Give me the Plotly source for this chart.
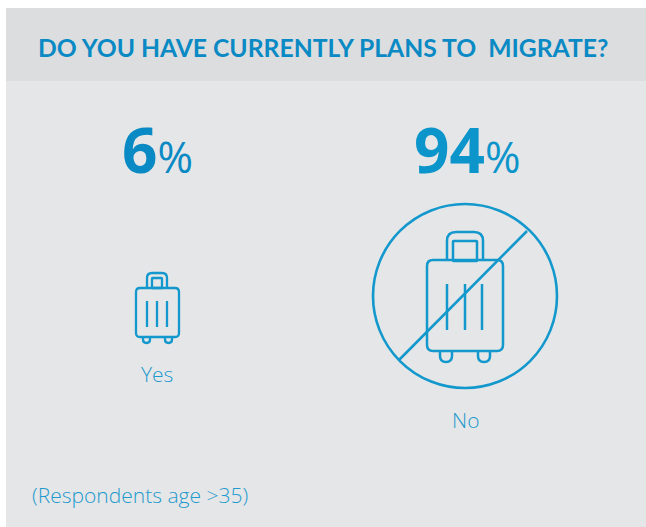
import plotly.graph_objects as go

W, H = 646, 527

# Survey content
TITLE = "DO YOU HAVE CURRENTLY PLANS TO  MIGRATE?"
CATEGORIES = ["Yes", "No"]
SHARES = [6, 94]
NOTE = "(Respondents age >35)"

BLUE_DARK = "#0A8AC4"
BLUE = "#0C95CB"
BLUE_LINE = "#1298CC"
BLUE_TEXT = "#1E9ACD"
HEADER_BG = "#DCDDDF"
PANEL_BG = "#E5E6E8"


def rounded(x0, y0, x1, y1, r, open_bottom=False):
    """SVG path of a rounded rectangle; open_bottom leaves the lower edge off."""
    if open_bottom:
        return (f"M{x0},{y1} L{x0},{y0 + r} Q{x0},{y0} {x0 + r},{y0} "
                f"L{x1 - r},{y0} Q{x1},{y0} {x1},{y0 + r} L{x1},{y1}")
    return (f"M{x0 + r},{y0} L{x1 - r},{y0} Q{x1},{y0} {x1},{y0 + r} "
            f"L{x1},{y1 - r} Q{x1},{y1} {x1 - r},{y1} L{x0 + r},{y1} "
            f"Q{x0},{y1} {x0},{y1 - r} L{x0},{y0 + r} Q{x0},{y0} {x0 + r},{y0} Z")


def wheel(x0, x1, y0, y1):
    """U-shaped caster hanging under the case."""
    r = (x1 - x0) / 2
    return (f"M{x0},{y0} L{x0},{y1 - r} Q{x0},{y1} {x0 + r},{y1} "
            f"Q{x1},{y1} {x1},{y1 - r} L{x1},{y0}")


def suitcase(body, handle, tag, ribs, rib_y, wheels, wheel_y, r, r_handle, width):
    """Line-art suitcase as a list of layout shapes."""
    style = dict(type="path", xref="x", yref="y", layer="above",
                 line=dict(color=BLUE_LINE, width=width))
    paths = [
        rounded(*body, r),
        rounded(handle[0], handle[1], handle[2], body[1], r_handle, open_bottom=True),
        rounded(*tag, 0.5),
        wheel(wheels[0], wheels[1], body[3], wheel_y),
        wheel(wheels[2], wheels[3], body[3], wheel_y),
    ]
    paths += [f"M{x},{rib_y[0]} L{x},{rib_y[1]}" for x in ribs]
    return [dict(path=p, **style) for p in paths]


shapes = [
    dict(type="rect", xref="x", yref="y", x0=6, x1=W, y0=8, y1=81,
         fillcolor=HEADER_BG, line=dict(width=0), layer="below"),
    dict(type="rect", xref="x", yref="y", x0=6, x1=W, y0=81, y1=H,
         fillcolor=PANEL_BG, line=dict(width=0), layer="below"),
    # Prohibition ring and slash around the larger case
    dict(type="circle", xref="x", yref="y", x0=373, x1=557, y0=204, y1=388,
         line=dict(color=BLUE_LINE, width=2.6), layer="above"),
    dict(type="line", xref="x", yref="y", x0=399, y0=360, x1=527, y1=231,
         line=dict(color=BLUE_LINE, width=2.6), layer="above"),
]

shapes += suitcase(body=(136, 288, 179, 337), handle=(147, 273, 167), tag=(152, 278, 162, 288),
                   ribs=(147, 157, 167), rib_y=(301, 327),
                   wheels=(143, 150, 165, 172), wheel_y=343,
                   r=4, r_handle=5, width=2.3)
shapes += suitcase(body=(427, 260, 503, 351), handle=(447, 232, 483), tag=(453, 241, 477, 261),
                   ribs=(447, 465, 482), rib_y=(284, 330),
                   wheels=(440, 452, 478, 490), wheel_y=362,
                   r=6, r_handle=9, width=2.5)


def big_share(value):
    return (f'<b><span style="font-size:62px">{value}</span></b>'
            f'<span style="font-size:43px">%</span>')


annotations = [
    dict(x=37, y=47, text=f"<b>{TITLE}</b>", xanchor="left", yanchor="middle",
         font=dict(family="Lato", size=24.7, color=BLUE_DARK)),
    dict(x=157, y=149, text=big_share(SHARES[0]), xanchor="center", yanchor="middle",
         font=dict(family="Open Sans", color=BLUE_DARK)),
    dict(x=467, y=149, text=big_share(SHARES[1]), xanchor="center", yanchor="middle",
         font=dict(family="Open Sans", color=BLUE)),
    dict(x=157, y=374, text=CATEGORIES[0], xanchor="center", yanchor="middle",
         font=dict(family="Open Sans", size=21, color=BLUE_TEXT, weight=300)),
    dict(x=465, y=420, text=CATEGORIES[1], xanchor="center", yanchor="middle",
         font=dict(family="Open Sans", size=21, color=BLUE_TEXT, weight=300)),
    dict(x=31, y=495, text=NOTE, xanchor="left", yanchor="middle",
         font=dict(family="Open Sans", size=21, color=BLUE_TEXT, weight=300)),
]
for a in annotations:
    a.update(xref="x", yref="y", showarrow=False, borderpad=0)

fig = go.Figure()
fig.update_layout(
    width=W, height=H, margin=dict(l=0, r=0, t=0, b=0),
    paper_bgcolor="white", plot_bgcolor="white", showlegend=False,
    xaxis=dict(range=[0, W], visible=False, fixedrange=True),
    yaxis=dict(range=[H, 0], visible=False, fixedrange=True),
    shapes=shapes, annotations=annotations,
)
fig.write_html("out.html", config=dict(displayModeBar=False))
